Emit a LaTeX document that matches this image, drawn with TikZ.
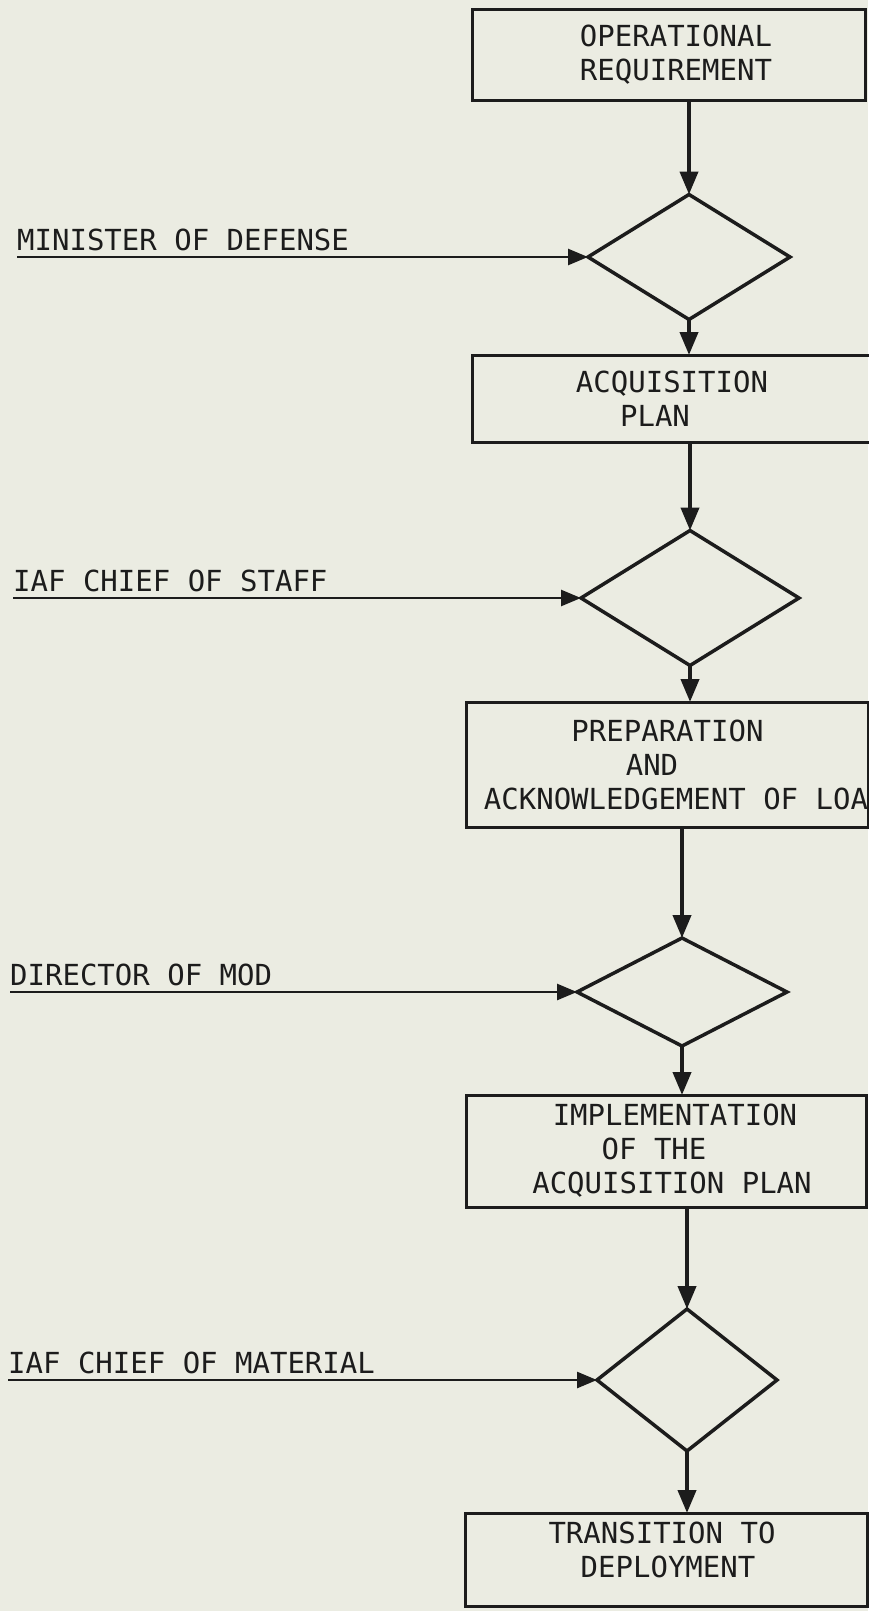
\documentclass[tikz,border=0pt]{standalone}
\usepackage{fontspec}
\newfontfamily\twfont{DejaVu Sans Mono}
\usetikzlibrary{arrows.meta,shapes.geometric}
\definecolor{paper}{RGB}{235,236,226}
\definecolor{ink}{RGB}{28,28,28}
\begin{document}
\begin{tikzpicture}[x=1pt,y=-1pt,
  txt/.style={text=ink,font=\twfont\fontsize{29}{34}\selectfont},
  boxnode/.style={draw=ink,line width=3pt,rectangle,inner sep=0pt,outer sep=0pt,align=center,txt},
  decision/.style={draw=ink,line width=3.5pt,diamond,inner sep=0pt,outer sep=0pt},
  lab/.style={anchor=south west,inner xsep=0pt,inner ysep=6pt,txt},
  flow/.style={draw=ink,line width=4pt,-{Triangle[length=23pt,width=18pt]}},
  feed/.style={draw=ink,line width=2.6pt,-{Triangle[length=20pt,width=16pt]}}]
\useasboundingbox (0,0) rectangle (868,1611);
\fill[paper] (0,0) rectangle (868,1611);

% process boxes
\node[boxnode,minimum width=393pt,minimum height=90pt] (b1) at (668.5,55)
  {\hspace*{15pt}OPERATIONAL\\\hspace*{15pt}REQUIREMENT};
\node[boxnode,minimum width=400pt,minimum height=87pt] (b2) at (672,398.5)
  {ACQUISITION\\\hspace*{-34pt}PLAN};
\node[boxnode,minimum width=399pt,minimum height=125pt] (b3) at (667.5,764.5)
  {PREPARATION\\\hspace*{-31pt}AND\\\hspace*{17pt}ACKNOWLEDGEMENT OF LOA};
\node[boxnode,minimum width=400pt,minimum height=112pt] (b4) at (666,1151)
  {\hspace*{18pt}IMPLEMENTATION\\\hspace*{-24pt}OF THE\\\hspace*{12pt}ACQUISITION PLAN};
\node[boxnode,minimum width=402pt,minimum height=93pt,
  label={[name=t5,align=center,txt,yshift=9.5pt]center:{\hspace*{-8pt}TRANSITION TO\\\hspace*{4pt}DEPLOYMENT}}] (b5) at (666,1559.5) {};

% decisions
\node[decision,minimum width=202pt,minimum height=125pt] (d1) at (689,257) {};
\node[decision,minimum width=218pt,minimum height=135pt] (d2) at (690,598) {};
\node[decision,minimum width=210pt,minimum height=108pt] (d3) at (682,992) {};
\node[decision,minimum width=180pt,minimum height=142pt] (d4) at (687,1380) {};

% authorities
\node[lab] (l1) at (17,257) {MINISTER OF DEFENSE};
\node[lab] (l2) at (13,598) {IAF CHIEF OF STAFF};
\node[lab] (l3) at (10,992) {DIRECTOR OF MOD};
\node[lab] (l4) at (8,1380) {IAF CHIEF OF MATERIAL};

% main flow
\draw[flow] (b1.south -| d1.north) -- (d1.north);
\draw[flow] (d1.south) -- (d1.south |- b2.north);
\draw[flow] (b2.south -| d2.north) -- (d2.north);
\draw[flow] (d2.south) -- (d2.south |- b3.north);
\draw[flow] (b3.south -| d3.north) -- (d3.north);
\draw[flow] (d3.south) -- (d3.south |- b4.north);
\draw[flow] (b4.south -| d4.north) -- (d4.north);
\draw[flow] (d4.south) -- (d4.south |- b5.north);

% inputs
\draw[feed] (l1.south west) -- (d1.west);
\draw[feed] (l2.south west) -- (d2.west);
\draw[feed] (l3.south west) -- (d3.west);
\draw[feed] (l4.south west) -- (d4.west);
\end{tikzpicture}
\end{document}
